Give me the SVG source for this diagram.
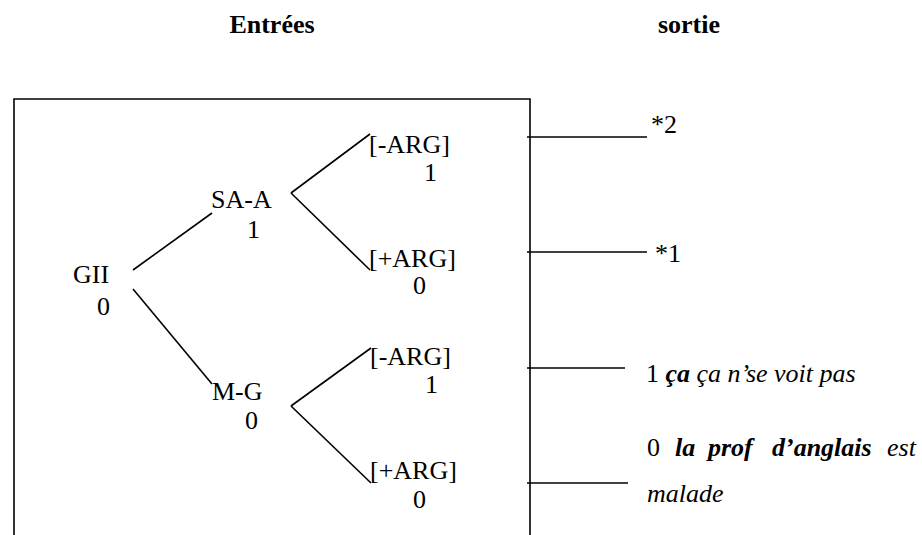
<svg xmlns="http://www.w3.org/2000/svg" width="922" height="535" viewBox="0 0 922 535">
<style>
text{font-family:"Liberation Serif","Times New Roman",serif;font-size:26px;fill:#000}
.h{font-weight:bold}
.i{font-style:italic}
.bi{font-style:italic;font-weight:bold}
.ln{stroke:#000;stroke-width:1.6;fill:none}
</style>
<rect width="922" height="535" fill="#fff"/>
<g id="headers">
<text class="h" x="272" y="33" text-anchor="middle">Entrées</text>
<text class="h" x="689" y="33" text-anchor="middle">sortie</text>
</g>
<g id="frame">
<path class="ln" d="M14,536 V99 H530 V536"/>
</g>
<g id="connectors">
<line class="ln" x1="133" y1="270" x2="212" y2="213"/>
<line class="ln" x1="133" y1="289" x2="212" y2="384"/>
<line class="ln" x1="370" y1="134" x2="291" y2="193"/>
<line class="ln" x1="291" y1="193" x2="370" y2="270"/>
<line class="ln" x1="371" y1="348" x2="291" y2="406"/>
<line class="ln" x1="291" y1="406" x2="371" y2="483"/>
<line class="ln" x1="527" y1="137" x2="647" y2="137"/>
<line class="ln" x1="527" y1="252" x2="647" y2="252"/>
<line class="ln" x1="527" y1="368" x2="625" y2="368"/>
<line class="ln" x1="527" y1="483" x2="628" y2="483"/>
</g>
<g id="n-gii"><text x="73" y="283">GII</text><text x="97" y="315">0</text></g>
<g id="n-saa"><text x="211" y="208">SA-A</text><text x="247" y="238">1</text></g>
<g id="n-saa-minus"><text x="369" y="153">[-ARG]</text><text x="424" y="181">1</text></g>
<g id="n-saa-plus"><text x="369" y="267">[+ARG]</text><text x="413" y="294">0</text></g>
<g id="n-mg"><text x="212" y="400">M-G</text><text x="245" y="429">0</text></g>
<g id="n-mg-minus"><text x="370" y="365">[-ARG]</text><text x="425" y="393">1</text></g>
<g id="n-mg-plus"><text x="370" y="479">[+ARG]</text><text x="413" y="508">0</text></g>
<g id="out-1"><text x="651" y="133">*2</text></g>
<g id="out-2"><text x="655" y="262">*1</text></g>
<g id="out-3"><text x="646" y="382">1 <tspan class="bi">ça</tspan> <tspan class="i">ça n’se voit pas</tspan></text></g>
<g id="out-4">
<text x="647" y="456">0<tspan class="bi" x="675">la</tspan><tspan class="bi" x="708">prof</tspan><tspan class="bi" x="772">d’anglais</tspan><tspan class="i" x="887">est</tspan></text>
<text class="i" x="647" y="502">malade</text>
</g>
</svg>
